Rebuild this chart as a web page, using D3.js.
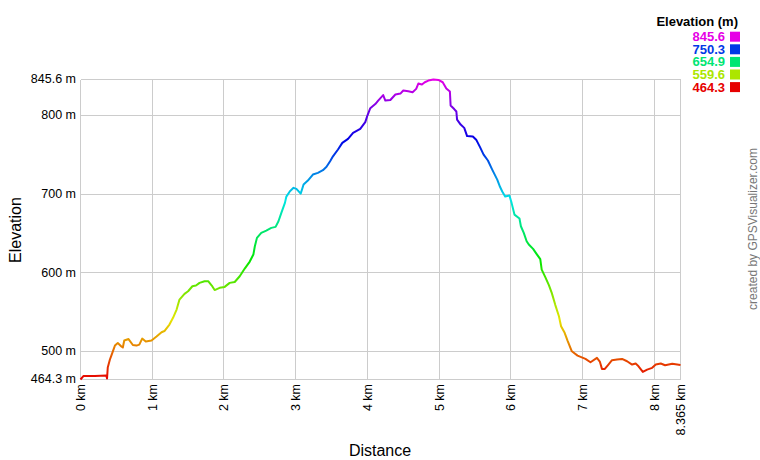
<!DOCTYPE html>
<html><head><meta charset="utf-8">
<script src="https://cdn.jsdelivr.net/npm/d3@7/dist/d3.min.js"></script>
<style>body{margin:0;background:#fff}svg{display:block}text{font-family:"Liberation Sans",Arial,sans-serif}</style>
</head><body><svg id="c" width="760" height="460"></svg>
<script>
const distKm = [0.00,0.04,0.20,0.36,0.37,0.38,0.41,0.43,0.45,0.48,0.52,0.57,0.59,0.61,0.67,0.73,0.78,0.82,0.86,0.91,0.99,1.06,1.13,1.17,1.24,1.29,1.34,1.38,1.45,1.50,1.56,1.61,1.66,1.73,1.78,1.83,1.87,1.94,2.01,2.08,2.15,2.22,2.29,2.36,2.41,2.43,2.46,2.52,2.59,2.66,2.72,2.76,2.80,2.85,2.87,2.92,2.97,3.01,3.07,3.11,3.17,3.24,3.31,3.38,3.43,3.48,3.52,3.59,3.65,3.73,3.80,3.90,3.97,4.00,4.04,4.11,4.15,4.22,4.25,4.32,4.39,4.46,4.50,4.57,4.63,4.68,4.71,4.76,4.80,4.85,4.92,4.99,5.05,5.10,5.15,5.16,5.21,5.24,5.25,5.30,5.35,5.39,5.47,5.52,5.57,5.62,5.68,5.74,5.81,5.85,5.88,5.92,5.98,6.01,6.05,6.12,6.14,6.18,6.22,6.25,6.31,6.36,6.41,6.43,6.48,6.53,6.57,6.62,6.67,6.70,6.75,6.79,6.85,6.93,7.04,7.11,7.20,7.24,7.27,7.31,7.36,7.41,7.48,7.55,7.62,7.69,7.74,7.78,7.84,7.90,7.97,8.02,8.09,8.15,8.25,8.365];
const elevM = [464.3,468.7,468.7,469.3,465.5,479.5,489.7,494.7,499.8,507.4,510.6,506.2,504.9,513.8,515.7,508.1,507.4,508.7,516.3,512.5,513.8,518.9,524.4,525.9,534.1,542.7,553.2,565.9,573.2,576.5,582.8,583.7,587.1,589.2,589.2,583.7,578.0,580.8,582.0,587.1,588.2,595.5,605.3,614.2,623.1,633.3,644.3,650.7,653.6,657.0,658.3,665.4,676.1,688.8,696.8,703.6,707.9,706.6,700.6,712.1,717.2,724.8,726.9,730.3,734.6,741.7,748.0,756.6,765.1,770.2,777.8,782.9,791.5,799.8,809.1,814.4,818.8,825.8,818.8,819.5,826.5,827.7,831.6,830.7,829.4,833.7,840.5,839.2,842.1,844.2,845.6,845.0,842.1,834.1,830.3,812.5,808.0,804.9,794.7,788.3,784.1,773.7,773.1,768.6,759.7,750.2,742.6,731.1,718.4,708.9,703.2,696.8,698.1,688.8,673.9,668.9,659.1,650.7,640.0,635.8,630.3,623.7,617.4,604.0,594.5,584.3,574.4,558.9,544.7,532.0,523.6,513.8,500.2,494.7,490.5,486.2,491.8,487.1,477.8,477.8,483.3,488.8,489.7,490.5,487.5,483.3,484.6,481.1,474.0,476.9,479.1,483.3,484.6,482.4,484.2,482.7];
const xTickValues = [0,1,2,3,4,5,6,7,8,8.365];
const xTickLabels = ["0 km","1 km","2 km","3 km","4 km","5 km","6 km","7 km","8 km","8.365 km"];
const yTickValues = [464.3,500,600,700,800,845.6];
const yTickLabels = ["464.3 m","500 m","600 m","700 m","800 m","845.6 m"];
const legendValues = [845.6,750.3,654.9,559.6,464.3];
const legendTitle = "Elevation (m)";

const minE = 464.3, maxE = 845.6;
const svg = d3.select("#c");
const x = d3.scaleLinear().domain([0, 8.365]).range([80.5, 680.5]);
const y = d3.scaleLinear().domain([minE, maxE]).range([379.5, 79.5]);
const hue = d3.scaleLinear().domain([minE, maxE]).range([0, 300]);
const col = v => d3.hsl(hue(v), 1, 0.45).formatHex();

// grid
const g = svg.append("g");
g.selectAll("line.h").data(yTickValues).join("line")
  .attr("x1", x(0)).attr("x2", x(8.365))
  .attr("y1", d => Math.round(y(d) - 0.5) + 0.5).attr("y2", d => Math.round(y(d) - 0.5) + 0.5)
  .attr("stroke", "#cccccc").attr("stroke-width", 1).attr("shape-rendering", "crispEdges");
g.selectAll("line.v").data(xTickValues).join("line")
  .attr("y1", y(minE)).attr("y2", y(maxE))
  .attr("x1", d => Math.round(x(d) - 0.5) + 0.5).attr("x2", d => Math.round(x(d) - 0.5) + 0.5)
  .attr("stroke", "#cccccc").attr("stroke-width", 1).attr("shape-rendering", "crispEdges");

// y tick labels
svg.selectAll("text.yt").data(yTickValues).join("text")
  .attr("x", 76).attr("y", d => y(d) - 0.5).attr("dy", "0.35em")
  .attr("text-anchor", "end").attr("font-size", "12.5px").attr("fill", "#000")
  .text((d, i) => yTickLabels[i]);

// x tick labels (rotated)
svg.selectAll("text.xt").data(xTickValues).join("text")
  .attr("transform", d => `translate(${x(d)},384) rotate(-90)`)
  .attr("dy", "0.35em").attr("text-anchor", "end").attr("font-size", "12.5px").attr("fill", "#000")
  .text((d, i) => xTickLabels[i]);

// gradient line
const defs = svg.append("defs");
const grad = defs.append("linearGradient").attr("id", "eg")
  .attr("gradientUnits", "userSpaceOnUse")
  .attr("x1", 0).attr("x2", 0).attr("y1", y(minE)).attr("y2", y(maxE));
d3.range(0, 1.0001, 0.05).forEach(t => {
  grad.append("stop").attr("offset", t).attr("stop-color", col(minE + t * (maxE - minE)));
});
const pts = distKm.map((d, i) => [d, elevM[i]]);
svg.append("path").datum(pts)
  .attr("d", d3.line().x(d => x(d[0])).y(d => y(d[1])).curve(d3.curveLinear))
  .attr("fill", "none").attr("stroke", "url(#eg)").attr("stroke-width", 2)
  .attr("stroke-linejoin", "round");

// axis titles
svg.append("text").attr("x", 380).attr("y", 456).attr("text-anchor", "middle")
  .attr("font-size", "16px").text("Distance");
svg.append("text").attr("transform", "translate(21,230) rotate(-90)").attr("text-anchor", "middle")
  .attr("font-size", "16px").text("Elevation");

// credit
svg.append("text").attr("transform", "translate(757,229) rotate(-90)").attr("text-anchor", "middle")
  .attr("font-size", "12px").attr("fill", "#777").text("created by GPSVisualizer.com");

// legend
svg.append("text").attr("x", 738).attr("y", 21).attr("dy", "0.35em").attr("text-anchor", "end")
  .attr("font-size", "13px").attr("font-weight", "bold").text(legendTitle);
const lg = svg.selectAll("g.lg").data(legendValues).join("g")
  .attr("transform", (d, i) => `translate(0,${36.7 + i * 12.6})`);
lg.append("text").attr("x", 725).attr("dy", "0.35em").attr("text-anchor", "end")
  .attr("font-size", "13px").attr("font-weight", "bold").attr("fill", d => col(d))
  .text(d => d.toFixed(1));
lg.append("rect").attr("x", 730).attr("y", -5).attr("width", 10).attr("height", 10)
  .attr("fill", d => col(d));
</script></body></html>
